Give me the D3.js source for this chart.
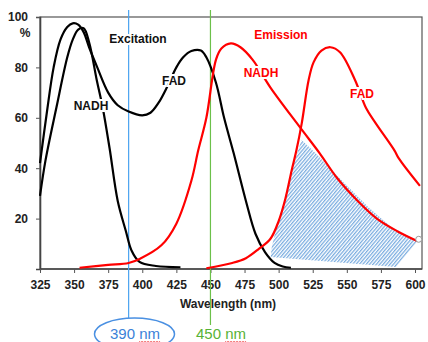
<!DOCTYPE html>
<html>
<head>
<meta charset="utf-8">
<script src="https://d3js.org/d3.v7.min.js"></script>
<style>
  body { margin: 0; background: #fff; }
  svg { display: block; font-family: "Liberation Sans", Arial, sans-serif; }
</style>
</head>
<body>
<svg id="chart" width="428" height="342"></svg>
<script>
// excitation curves (black)
const nadhExW = [325, 329, 337, 345, 349, 353, 357, 361, 366.6, 371, 376, 382, 388, 392, 398, 410, 428];
const nadhExV = [29, 43, 64, 84, 91, 95, 95.5, 90, 75, 64, 48, 27, 15, 7.5, 2.8, 1.2, 0.7];
const fadExW = [325, 330, 335, 340, 345, 349, 353, 357, 361, 367, 375, 382, 390, 400, 406, 412, 418, 425, 430, 436, 443, 447, 454, 460, 467, 476, 483, 490, 497, 503, 509];
const fadExV = [42, 62, 80, 91, 96, 97.5, 97, 94, 88, 80, 70, 65, 62.5, 61, 62, 66, 72, 80, 84, 86.5, 86.7, 84, 74, 60, 46, 27, 14, 6.7, 2.4, 1, 0.5];

// emission curves (red)
const nadhEmW = [354, 375, 390, 398, 414, 425, 436, 441, 447, 454, 458, 465, 472, 481, 494, 516, 530, 543, 558, 572, 587, 602];
const nadhEmV = [0.5, 1.6, 2.4, 4, 9.4, 18, 35, 47, 60, 83, 87.5, 89.5, 88, 83, 72, 56, 46, 36, 27, 20, 15, 11];
const fadEmW = [447, 466, 476, 485.5, 494, 500, 505, 509.5, 513, 517, 522, 525.6, 531.4, 538, 545, 556, 564, 571, 585, 588, 603.6];
const fadEmV = [0.3, 2.4, 4.3, 8, 12, 19, 28, 39, 47, 58, 75, 82, 86.7, 88, 86, 75, 64, 58, 47, 44, 33];

// hatched overlap region
const hatchW = [516.8, 527, 543.8, 565.7, 582.5, 602, 586, 494.2, 495, 497.9, 503.7, 509.5];
const hatchV = [51.2, 46, 36.5, 24.6, 16.7, 11.1, 0.8, 4.8, 8.7, 15.5, 26.2, 39.3];

const xTicks = [325, 350, 375, 400, 425, 450, 475, 500, 525, 550, 575, 600];
const yTicks = [20, 40, 60, 80, 100];
const markers = [
  { w: 390, label: "390 nm", color: "#3b82d8", line: "#4aa3f0" },
  { w: 450, label: "450 nm", color: "#58b236", line: "#6cc04a" }
];

const svg = d3.select("#chart");
const plotLeft = 40, plotRight = 422, plotTop = 17, plotBottom = 269;

const x = d3.scaleLinear().domain([325, 600]).range([40, 415]);
const y = d3.scaleLinear().domain([0, 100]).range([plotBottom, plotTop]);

const defs = svg.append("defs");
defs.append("pattern")
  .attr("id", "hatch")
  .attr("patternUnits", "userSpaceOnUse")
  .attr("width", 2.6)
  .attr("height", 6)
  .attr("patternTransform", "rotate(40)")
  .append("line")
  .attr("x1", 0.6).attr("y1", 0).attr("x2", 0.6).attr("y2", 6)
  .attr("stroke", "#79acdf")
  .attr("stroke-width", 1.3);

// frame
svg.append("rect")
  .attr("x", plotLeft).attr("y", plotTop)
  .attr("width", plotRight - plotLeft).attr("height", plotBottom - plotTop)
  .attr("fill", "none")
  .attr("stroke", "#555")
  .attr("stroke-width", 1.2);

// y axis
const yAxis = svg.append("g")
  .attr("transform", `translate(${plotLeft},0)`)
  .call(d3.axisLeft(y).tickValues(yTicks).tickSize(4).tickPadding(8));
yAxis.select(".domain").attr("stroke", "#444").attr("stroke-width", 1.6);
yAxis.selectAll(".tick line").attr("stroke", "#555");
yAxis.selectAll(".tick text")
  .attr("font-size", 12).attr("font-weight", "bold").attr("fill", "#222")
  .attr("font-family", "Liberation Sans, Arial, sans-serif");
svg.append("text")
  .attr("x", 25).attr("y", 37)
  .attr("text-anchor", "middle")
  .attr("font-size", 12).attr("font-weight", "bold").attr("fill", "#222")
  .text("%");

// x axis
const xAxis = svg.append("g")
  .attr("transform", `translate(0,${plotBottom})`)
  .call(d3.axisBottom(x).tickValues(xTicks).tickSize(4).tickPadding(7));
xAxis.select(".domain").attr("d", `M${plotLeft},0H${plotRight}`).attr("stroke", "#444").attr("stroke-width", 1.6);
xAxis.selectAll(".tick line").attr("stroke", "#555");
xAxis.selectAll(".tick text")
  .attr("font-size", 12).attr("font-weight", "bold").attr("fill", "#222")
  .attr("font-family", "Liberation Sans, Arial, sans-serif");
svg.append("text")
  .attr("x", 228).attr("y", 308)
  .attr("text-anchor", "middle")
  .attr("font-size", 12).attr("font-weight", "bold").attr("fill", "#222")
  .text("Wavelength (nm)");

// hatched area
const zip = (ws, vs) => ws.map((w, i) => [w, vs[i]]);
svg.append("path")
  .datum(zip(hatchW, hatchV))
  .attr("d", d3.line().x(d => x(d[0])).y(d => y(d[1])).curve(d3.curveLinearClosed))
  .attr("fill", "url(#hatch)")
  .attr("stroke", "none");

// marker lines
markers.forEach(m => {
  svg.append("line")
    .attr("x1", x(m.w)).attr("x2", x(m.w))
    .attr("y1", 10).attr("y2", m.w === 390 ? 318 : 325)
    .attr("stroke", m.line).attr("stroke-width", 1.2);
});

// curves
const line = d3.line().x(d => x(d[0])).y(d => y(d[1])).curve(d3.curveCatmullRom.alpha(0.5));
const curves = [
  { data: zip(nadhExW, nadhExV), color: "#000" },
  { data: zip(fadExW, fadExV), color: "#000" },
  { data: zip(nadhEmW, nadhEmV), color: "#ff0000" },
  { data: zip(fadEmW, fadEmV), color: "#ff0000" }
];
svg.selectAll(".curve")
  .data(curves)
  .join("path")
  .attr("class", "curve")
  .attr("d", d => line(d.data))
  .attr("fill", "none")
  .attr("stroke", d => d.color)
  .attr("stroke-width", 2.2)
  .attr("stroke-linejoin", "round");

// little end marker on NADH emission
svg.append("circle")
  .attr("cx", x(nadhEmW[nadhEmW.length - 1]) + 1)
  .attr("cy", y(nadhEmV[nadhEmV.length - 1]) - 2)
  .attr("r", 3)
  .attr("fill", "#fff")
  .attr("stroke", "#999")
  .attr("stroke-width", 1);

// labels
const labels = [
  { text: "Excitation", x: 138, y: 43, color: "#111" },
  { text: "NADH", x: 91, y: 110, color: "#111" },
  { text: "FAD", x: 174, y: 85, color: "#111" },
  { text: "Emission", x: 281, y: 39, color: "#ff0000" },
  { text: "NADH", x: 261, y: 77, color: "#ff0000" },
  { text: "FAD", x: 362, y: 98, color: "#ff0000" }
];
svg.selectAll(".lbl")
  .data(labels)
  .join("text")
  .attr("class", "lbl")
  .attr("x", d => d.x).attr("y", d => d.y)
  .attr("text-anchor", "middle")
  .attr("font-size", 12).attr("font-weight", "bold")
  .attr("fill", d => d.color)
  .attr("stroke", "#fff").attr("stroke-width", 4)
  .attr("paint-order", "stroke")
  .text(d => d.text);

// wavelength callouts below the axis
svg.append("ellipse")
  .attr("cx", 134.5).attr("cy", 334)
  .attr("rx", 40).attr("ry", 16)
  .attr("fill", "none")
  .attr("stroke", "#4a90e2").attr("stroke-width", 1.5);

const cx = [135, 221];
markers.forEach((m, i) => {
  const t = svg.append("text")
    .attr("x", cx[i]).attr("y", 339)
    .attr("text-anchor", "middle")
    .attr("font-size", 15)
    .attr("fill", m.color)
    .text(m.label);
  // spell-check squiggle under "nm"
  const node = t.node();
  const x0 = node.getStartPositionOfChar(4).x;
  const len = node.getSubStringLength(4, 2);
  let d = `M${x0},341`;
  for (let k = 0, px = x0; px < x0 + len; k++) {
    px += 1.5;
    d += `L${Math.min(px, x0 + len)},${k % 2 ? 341 : 342.5}`;
  }
  svg.append("path").attr("d", d).attr("fill", "none").attr("stroke", "#e33").attr("stroke-width", 0.7);
});
</script>
</body>
</html>
